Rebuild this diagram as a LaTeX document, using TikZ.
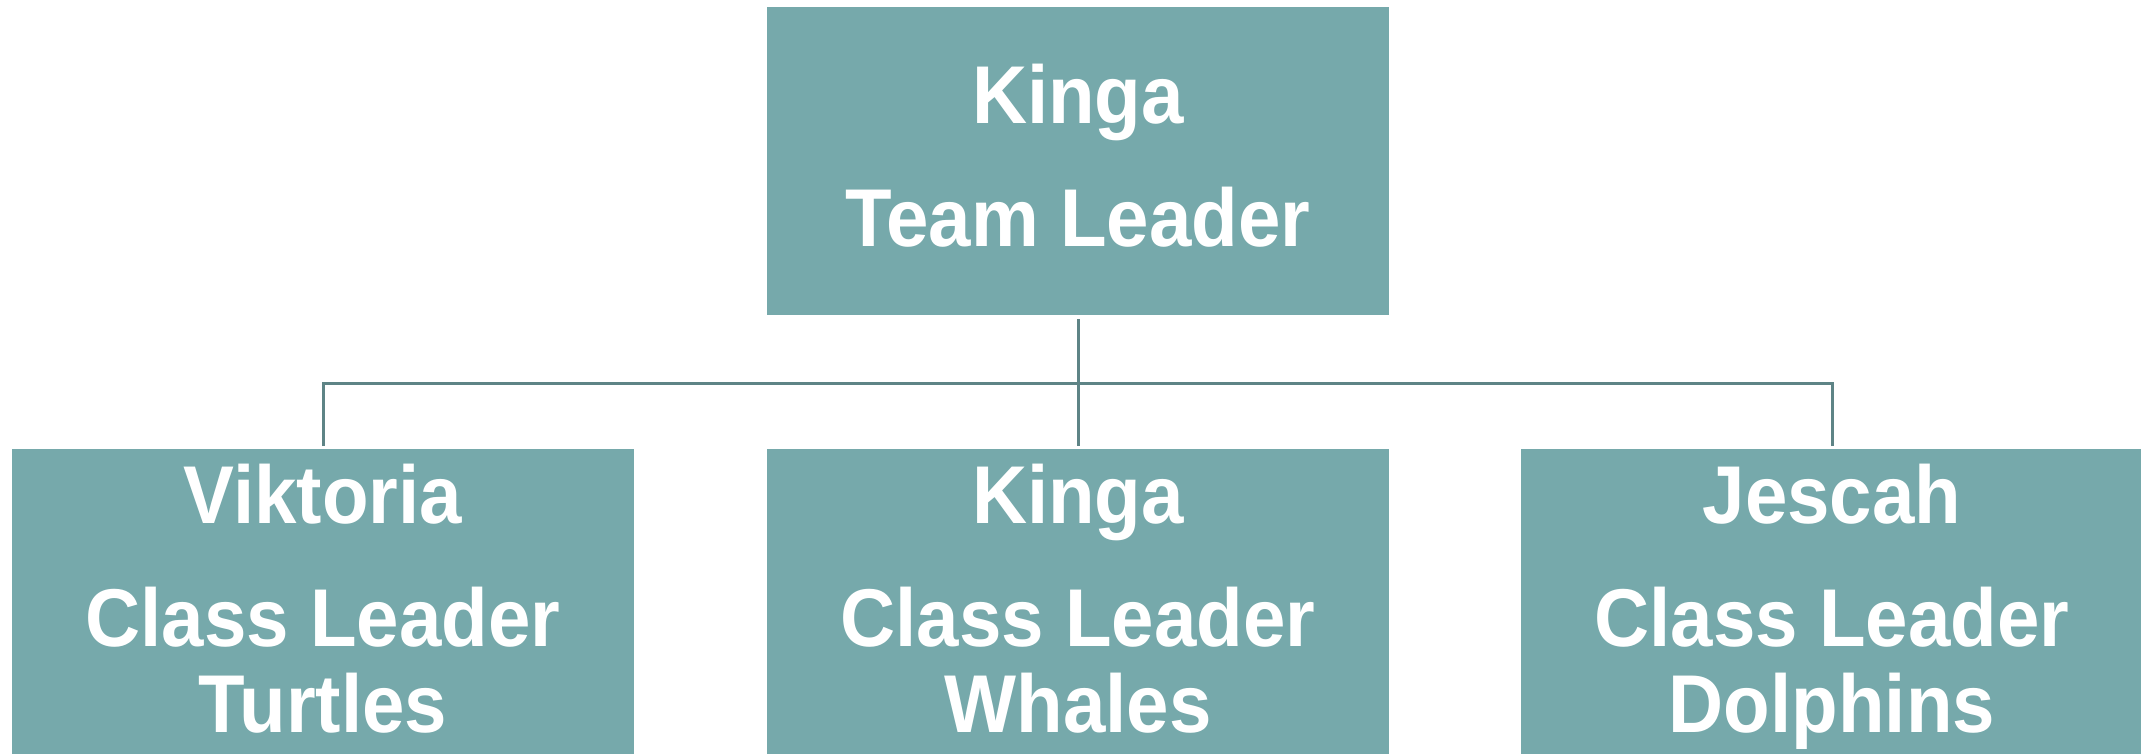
\documentclass[tikz,border=0pt]{standalone}
\usepackage{fontspec}
\setmainfont{Liberation Sans}
\newfontfamily\boxfont[FakeStretch=0.93]{Liberation Sans Bold}
\definecolor{boxfill}{HTML}{76A9AB}
\definecolor{linec}{HTML}{5E8486}
\begin{document}
\begin{tikzpicture}[x=1pt,y=-1pt,
  box/.style={fill=boxfill, draw=none, minimum width=622pt, minimum height=308pt, inner sep=0pt, outer sep=0pt, anchor=north west},
  lbl/.style={text=white, font=\boxfont\fontsize{82}{86}\selectfont, anchor=base, inner sep=0pt},
  conn/.style={draw=linec, line width=3pt, line join=miter}]
\useasboundingbox (0,0) rectangle (2141,754);
\node[box] (top) at (767,7) {};
\node[box, minimum height=340pt] (b1) at (12,449) {};
\node[box, minimum height=340pt] (b2) at (767,449) {};
\node[box, minimum height=340pt] (b3) at (1521,449) {};
\node[lbl] (topname) at (1078,124) {Kinga};
\node[lbl] (toprole) at (1078,247) {Team Leader};
\node[lbl] (n1) at (323,523) {Viktoria};
\node[lbl] (r1) at (323,646) {Class Leader};
\node[lbl] (g1) at (323,732) {Turtles};
\node[lbl] (n2) at (1078,523) {Kinga};
\node[lbl] (r2) at (1078,646) {Class Leader};
\node[lbl] (g2) at (1078,732) {Whales};
\node[lbl] (n3) at (1832,523) {Jescah};
\node[lbl] (r3) at (1832,646) {Class Leader};
\node[lbl] (g3) at (1832,732) {Dolphins};
\coordinate (j) at (1078,383);
\draw[conn] ([yshift=-4pt]top.south) -- ([yshift=3pt]b2.north);
\draw[conn] ([yshift=3pt]b1.north) -- (b1.north |- j) -- (b3.north |- j) -- ([yshift=3pt]b3.north);
\end{tikzpicture}
\end{document}
